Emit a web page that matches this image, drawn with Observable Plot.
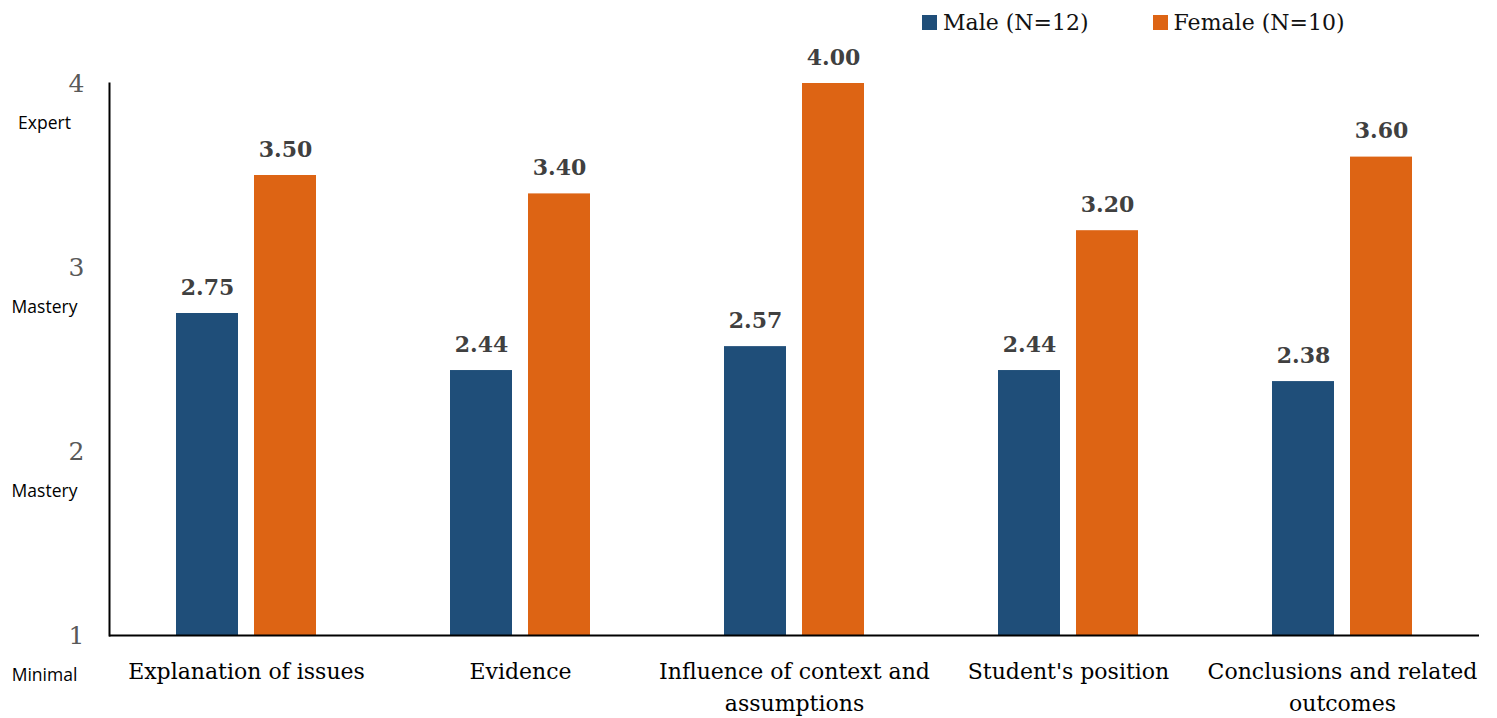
<!DOCTYPE html>
<html>
<head>
<meta charset="utf-8">
<script src="https://cdn.jsdelivr.net/npm/d3@7"></script>
<script src="https://cdn.jsdelivr.net/npm/@observablehq/plot@0.6"></script>
<style>
  body { margin: 0; background: #fff; }
  #legend { height: 44px; display: flex; align-items: center; padding-left: 922px; padding-top: 0px; box-sizing: border-box;
    font-family: "DejaVu Serif", serif; font-size: 22px; color: #111; }
  .item { display: flex; align-items: center; margin-right: 64px; }
  .sw { width: 15px; height: 15px; margin-right: 6px; }
</style>
</head>
<body>
<div id="legend"></div>
<div id="chart"></div>
<script>
const categories = ["Explanation of issues", "Evidence", "Influence of context and assumptions", "Student's position", "Conclusions and related outcomes"];
const categoryLabels = ["Explanation of issues", "Evidence", "Influence of context and\nassumptions", "Student's position", "Conclusions and related\noutcomes"];
const series = ["Male (N=12)", "Female (N=10)"];
const colors = ["#1F4E79", "#DD6414"];
const male = [2.75, 2.44, 2.57, 2.44, 2.38];
const female = [3.50, 3.40, 4.00, 3.20, 3.60];
const yTicks = [1, 2, 3, 4];
const yLevels = ["Minimal", "Mastery", "Mastery", "Expert"];

const data = [];
categories.forEach((c, i) => {
  data.push({category: c, series: series[0], value: male[i]});
  data.push({category: c, series: series[1], value: female[i]});
});

const legend = document.getElementById("legend");
series.forEach((s, i) => {
  const it = document.createElement("div");
  it.className = "item";
  it.innerHTML = `<span class="sw" style="background:${colors[i]}"></span><span>${s}</span>`;
  legend.appendChild(it);
});

const chart = Plot.plot({
  width: 1497,
  height: 674,
  marginTop: 39,
  marginBottom: 83,
  marginLeft: 107,
  marginRight: 17,
  style: {fontFamily: "DejaVu Serif, serif", background: "#fff"},
  fx: {domain: categories, padding: 0, label: null},
  x: {domain: series, paddingInner: 0.21, paddingOuter: 0.86, axis: null},
  y: {domain: [1, 4], axis: null},
  color: {domain: series, range: colors},
  marks: [
    Plot.barY(data, {fx: "category", x: "series", y1: 1, y2: "value", fill: "series"}),
    Plot.text(data, {fx: "category", x: "series", y: "value", text: d => d.value.toFixed(2),
      dy: -19, lineAnchor: "bottom", fontWeight: "bold", fontSize: 22, fill: "#404040"}),
    Plot.ruleY([1], {stroke: "#000", strokeWidth: 2}),
    Plot.frame({anchor: "left", facetAnchor: "left", stroke: "#000", strokeWidth: 2}),
    Plot.axisY({ticks: yTicks, tickSize: 0, tickPadding: 25, fontSize: 25, fill: "#595959", label: null,
      tickFormat: d => String(d)}),
    Plot.text(yTicks, {y: d => d, text: (d, i) => yLevels[i], frameAnchor: "left", facetAnchor: "left",
      dx: -65, dy: 40, textAnchor: "middle", fontFamily: "Open Sans", fontSize: 17.5, fill: "#000"}),
    Plot.axisFx({anchor: "bottom", tickSize: 0, tickPadding: 21, fontSize: 22, lineHeight: 1.45, fill: "#000",
      label: null, tickFormat: d => categoryLabels[categories.indexOf(d)]})
  ]
});
document.getElementById("chart").appendChild(chart);
</script>
</body>
</html>
